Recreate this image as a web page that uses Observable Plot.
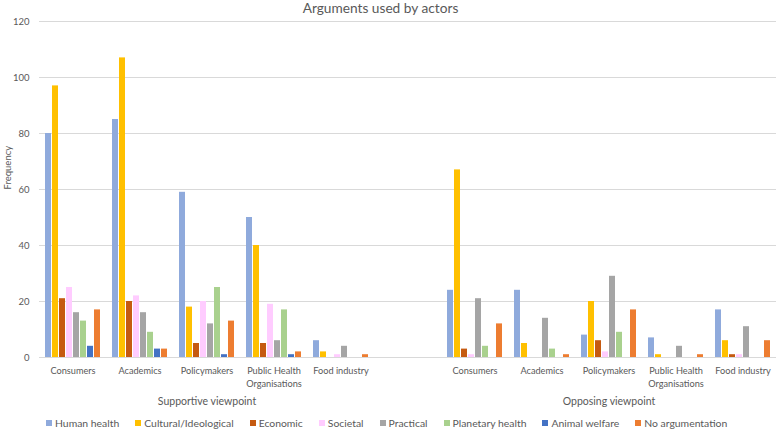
<!DOCTYPE html>
<html><head><meta charset="utf-8">
<script src="https://cdn.jsdelivr.net/npm/d3@7"></script>
<script src="https://cdn.jsdelivr.net/npm/@observablehq/plot@0.6"></script>
<style>
body{margin:0;background:#fff;font-family:Lato,sans-serif;}
#wrap{position:relative;width:777px;height:430px;overflow:hidden;background:#fff}
#title{position:absolute;top:0;left:-8px;width:777px;text-align:center;font-size:13.7px;color:#595959;line-height:15px}
#chart{position:absolute;top:0;left:0}
#legend{position:absolute;top:416px;left:46px;width:731px;display:flex;justify-content:flex-start;gap:16px;font-size:10.4px;color:#595959;line-height:14px}
#legend span.item{display:flex;align-items:center;white-space:nowrap}
.sw{display:inline-block;width:6px;height:6px;margin-right:3px}
</style></head><body>
<div id="wrap"><div id="chart"></div><div id="title">Arguments used by actors</div><div id="legend"></div></div>
<script>
const actors = ["Consumers","Academics","Policymakers","Public Health Organisations","Food industry"];
const viewpoints = ["Supportive viewpoint","Opposing viewpoint"];
const series = ["Human health","Cultural/Ideological","Economic","Societal","Practical","Planetary health","Animal welfare","No argumentation"];
const colors = ["#8faadc","#ffc000","#c55a11","#ffccff","#a5a5a5","#a9d18e","#4472c4","#ed7d31"];
const yTicks = [0,20,40,60,80,100,120];

// values per actor, in series order
const supportiveConsumers    = [80, 97, 21, 25, 16, 13, 4, 17];
const supportiveAcademics    = [85, 107, 20, 22, 16, 9, 3, 3];
const supportivePolicymakers = [59, 18, 5, 20, 12, 25, 1, 13];
const supportivePublicHealth = [50, 40, 5, 19, 6, 17, 1, 2];
const supportiveFoodIndustry = [6, 2, 0, 1, 4, 0, 0, 1];
const opposingConsumers      = [24, 67, 3, 1, 21, 4, 0, 12];
const opposingAcademics      = [24, 5, 0, 0, 14, 3, 0, 1];
const opposingPolicymakers   = [8, 20, 6, 2, 29, 9, 0, 17];
const opposingPublicHealth   = [7, 1, 0, 0, 4, 0, 0, 1];
const opposingFoodIndustry   = [17, 6, 1, 1, 11, 0, 0, 6];

const supportive = [supportiveConsumers, supportiveAcademics, supportivePolicymakers, supportivePublicHealth, supportiveFoodIndustry];
const opposing = [opposingConsumers, opposingAcademics, opposingPolicymakers, opposingPublicHealth, opposingFoodIndustry];

const slots = [...actors.map(a => "S|" + a), "gap", ...actors.map(a => "O|" + a)];
const data = [];
[[ "S", supportive ], [ "O", opposing ]].forEach(([k, groups]) => {
  groups.forEach((vals, i) => vals.forEach((v, j) => data.push({slot: k + "|" + actors[i], series: series[j], value: v})));
});
series.forEach(s => data.push({slot: "gap", series: s, value: 0}));

const groupLabels = [
  {slot: "S|Policymakers", label: viewpoints[0]},
  {slot: "O|Policymakers", label: viewpoints[1]}
];

const fmtSlot = d => {
  if (d === "gap") return "";
  const a = d.slice(2);
  return a === "Public Health Organisations" ? "Public Health\nOrganisations" : a;
};

const chart = Plot.plot({
  width: 777, height: 412,
  marginTop: 21, marginBottom: 55, marginLeft: 38, marginRight: 0,
  style: {fontFamily: "Lato, sans-serif", fontSize: "9px", color: "#595959", background: "transparent"},
  fx: {domain: slots, padding: 0, label: null},
  x: {domain: series, paddingInner: 0.14, paddingOuter: 0.7, axis: null},
  y: {domain: [0, 120], label: null},
  color: {domain: series, range: colors},
  marks: [
    Plot.gridY(yTicks, {stroke: "#d9d9d9", strokeOpacity: 1, strokeWidth: 1}),
    Plot.axisY(yTicks, {tickSize: 0, tickPadding: 10, label: null, fontSize: 9.5}),
    Plot.axisFx({anchor: "bottom", tickSize: 0, tickPadding: 7, tickFormat: fmtSlot, label: null, lineHeight: 1.45, fontSize: 9.2}),
    Plot.barY(data, {fx: "slot", x: "series", y: "value", fill: "series"}),
    Plot.text(groupLabels, {fx: "slot", text: "label", frameAnchor: "bottom", dy: 47, fontSize: 10.5, fill: "#595959"}),
    Plot.text(["Frequency"], {fx: () => slots[0], text: d => d, frameAnchor: "left", dx: -32, rotate: -90, fontSize: 9.5, fill: "#595959"})
  ]
});
document.getElementById("chart").appendChild(chart);

const legend = document.getElementById("legend");
series.forEach((s, i) => {
  const it = document.createElement("span");
  it.className = "item";
  it.innerHTML = `<span class="sw" style="background:${colors[i]}"></span>${s}`;
  legend.appendChild(it);
});
</script>
</body></html>
